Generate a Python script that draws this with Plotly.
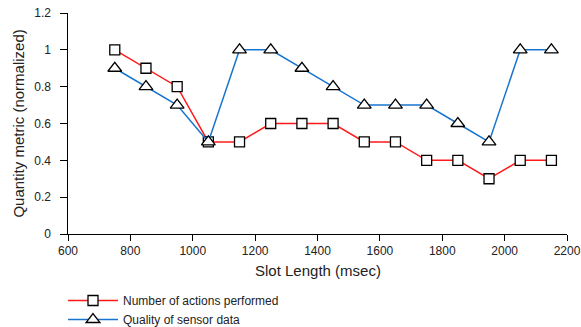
import plotly.graph_objects as go

slot_length = [750, 850, 950, 1050, 1150, 1250, 1350, 1450, 1550, 1650, 1750, 1850, 1950, 2050, 2150]
actions = [1.0, 0.9, 0.8, 0.5, 0.5, 0.6, 0.6, 0.6, 0.5, 0.5, 0.4, 0.4, 0.3, 0.4, 0.4]
quality = [0.9, 0.8, 0.7, 0.5, 1.0, 1.0, 0.9, 0.8, 0.7, 0.7, 0.7, 0.6, 0.5, 1.0, 1.0]
x_ticks = [600, 800, 1000, 1200, 1400, 1600, 1800, 2000, 2200]
y_ticks = [0, 0.2, 0.4, 0.6, 0.8, 1.0, 1.2]
y_tick_text = ["0", "0.2", "0.4", "0.6", "0.8", "1", "1.2"]
x_title = "Slot Length (msec)"
y_title = "Quantity metric (normalized)"

fig = go.Figure()
fig.add_trace(go.Scatter(
    x=slot_length, y=actions, mode="lines+markers", name="Number of actions performed",
    line=dict(color="#ff1a1a", width=1.5),
    marker=dict(symbol="square", size=10, color="white", line=dict(color="black", width=1.3)),
))
fig.add_trace(go.Scatter(
    x=slot_length, y=quality, mode="lines+markers", name="Quality of sensor data",
    line=dict(color="#1874cd", width=1.5),
    marker=dict(symbol="triangle-up", size=12, color="white", line=dict(color="black", width=1.3)),
))

axis_font = dict(family="Liberation Sans, Arial, sans-serif", size=12, color="#222222")
title_font = dict(family="Liberation Sans, Arial, sans-serif", size=15, color="#222222")
fig.update_layout(
    width=581, height=327,
    margin=dict(l=68, r=14, t=13, b=93, autoexpand=False),
    plot_bgcolor="white", paper_bgcolor="white",
    font=dict(family="Liberation Sans, Arial, sans-serif", size=12, color="#222222"),
    showlegend=True,
    legend=dict(x=63/581, y=1 - 286/327, xref="container", yref="container",
                xanchor="left", yanchor="top", bgcolor="rgba(0,0,0,0)",
                font=dict(size=12), itemwidth=50, tracegroupgap=0),
    xaxis=dict(range=[600, 2200], tickvals=x_ticks, showgrid=False, zeroline=False,
               showline=True, linecolor="black", linewidth=1, ticks="outside", ticklen=6,
               tickwidth=1, tickcolor="black", tickfont=axis_font, automargin=False),
    yaxis=dict(range=[0, 1.2], tickvals=y_ticks,
               ticktext=[t + "\u00a0\u00a0" for t in y_tick_text],
               showgrid=False, zeroline=False,
               showline=True, linecolor="black", linewidth=1, ticks="outside", ticklen=7,
               tickwidth=1, tickcolor="black", tickfont=axis_font, automargin=False),
    annotations=[
        dict(text=x_title, xref="paper", yref="paper", x=0.5, y=-0.167,
             xanchor="center", yanchor="middle", showarrow=False, font=title_font),
        dict(text=y_title, xref="paper", yref="paper", x=-0.1, y=0.5, textangle=-90,
             xanchor="center", yanchor="middle", showarrow=False, font=title_font),
    ],
)
fig.write_html("out.html", config={"displayModeBar": False},
               post_script="document.body.style.margin='0';")
